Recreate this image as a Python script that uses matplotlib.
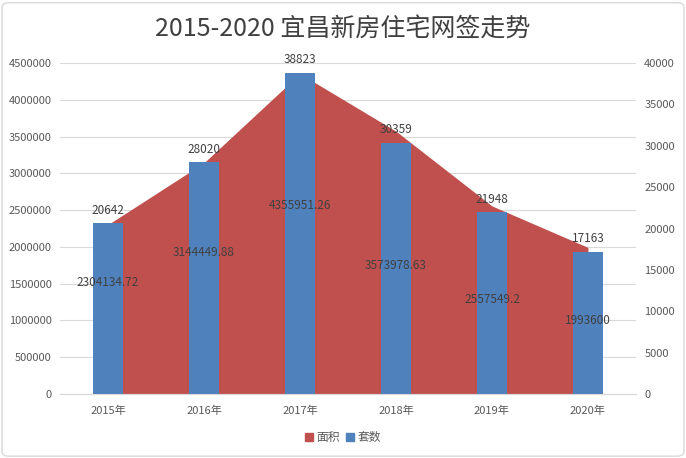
import matplotlib
matplotlib.use('Agg')
import matplotlib.pyplot as plt
from matplotlib.patches import FancyBboxPatch
from matplotlib.ticker import FuncFormatter
import numpy as np

plt.rcParams['font.family'] = ['Noto Sans CJK SC', 'DejaVu Sans']

years = ['2015年', '2016年', '2017年', '2018年', '2019年', '2020年']
area = [2304134.72, 3144449.88, 4355951.26, 3573978.63, 2557549.2, 1993600]
area_labels = ['2304134.72', '3144449.88', '4355951.26', '3573978.63', '2557549.2', '1993600']
units = [20642, 28020, 38823, 30359, 21948, 17163]
# where the area labels sit, as a share of each value
label_frac = [0.66, 0.61, 0.59, 0.49, 0.5, 0.5]

red = '#C0504D'
blue = '#4F81BD'
txt = '#404040'
tick_c = '#595959'

fig = plt.figure(figsize=(6.86, 4.58), dpi=100)
fig.patches.append(FancyBboxPatch((0.003, 0.004), 0.994, 0.99, boxstyle='round,pad=0,rounding_size=0.01',
                                  transform=fig.transFigure, fill=False, edgecolor='#D9D9D9', lw=1))
ax = fig.add_axes([0.0875, 0.1397, 0.8395, 0.7226])
ax2 = ax.twinx()

x = np.arange(len(years))
ax.fill_between(x, area, 0, color=red, lw=0)
ax.set_ylim(0, 4500000)
ax.set_yticks(np.arange(0, 4500001, 500000))
ax.yaxis.set_major_formatter(FuncFormatter(lambda v, p: '%d' % v))
ax.set_xlim(-0.5, len(years) - 0.5)
ax.grid(axis='y', color='#D9D9D9', lw=0.8)
ax.set_axisbelow(True)

ax2.bar(x, units, width=0.32, color=blue)
ax2.set_ylim(0, 40000)
ax2.set_yticks(np.arange(0, 40001, 5000))

for a in (ax, ax2):
    for s in ['top', 'left', 'right']:
        a.spines[s].set_visible(False)
    a.spines['bottom'].set_color('#D9D9D9')
    a.tick_params(length=0, labelsize=8, labelcolor=tick_c, pad=6)

ax.set_xticks(x)
ax.set_xticklabels(years)
ax.tick_params(axis='x', pad=8)

for i in range(len(years)):
    ax2.text(x[i], units[i] + 800, str(units[i]), ha='center', va='bottom', fontsize=8.5, color=txt)
    ax2.text(x[i], area[i] * label_frac[i], area_labels[i], ha='center', va='center',
             fontsize=8.5, color=txt, transform=ax.transData)

fig.text(0.5, 0.935, '2015-2020 宜昌新房住宅网签走势', ha='center', va='center', fontsize=18, color=txt)

h1 = plt.Rectangle((0, 0), 1, 1, color=red)
h2 = plt.Rectangle((0, 0), 1, 1, color=blue)
fig.legend([h1, h2], ['面积', '套数'], loc='center', bbox_to_anchor=(0.5, 0.045), ncol=2, frameon=False,
           fontsize=8.5, handlelength=0.7, handleheight=0.7, handletextpad=0.3, columnspacing=0.5,
           labelcolor=tick_c)

fig.savefig('out.png', dpi=100)
